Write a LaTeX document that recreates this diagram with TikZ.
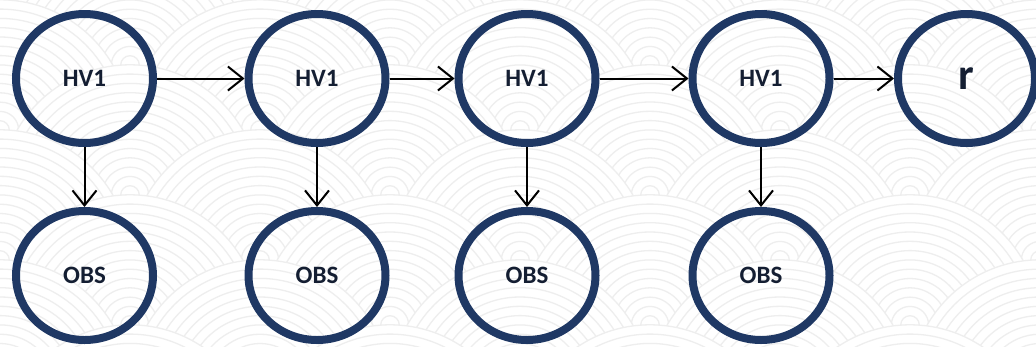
\documentclass[tikz,border=0pt]{standalone}
\usepackage{fontspec}
\setmainfont{Carlito}
\usetikzlibrary{shapes.geometric,arrows.meta}
\definecolor{navy}{RGB}{31,56,100}
\definecolor{txt}{RGB}{20,30,50}
\definecolor{waveline}{RGB}{238,238,238}
\tikzset{
  state/.style={ellipse, draw=navy, line width=8pt, minimum width=137pt, minimum height=129pt, inner sep=0pt, font=\fontsize{25}{25}\selectfont\bfseries, text=txt},
  big/.style={font=\fontsize{44}{44}\selectfont\bfseries},
  link/.style={draw=black, line width=2pt, -{Straight Barb[length=15pt,width=24pt,line width=2pt]}},
  wave/.style={draw=waveline, line width=1.3pt}
}
\newcommand{\lowtxt}[1]{\raisebox{-3pt}{#1}}
\begin{document}
\begin{tikzpicture}[x=1pt,y=-1pt]
\useasboundingbox[fill=white] (0,0) rectangle (1036,346);
\begin{scope}
\clip (0,0) rectangle (1036,346);
\foreach \j in {0,...,7} {
  \pgfmathsetmacro\yy{\j*65}
  \pgfmathsetmacro\off{mod(\j,2)*130}
  \foreach \i in {-1,...,4} {
    \pgfmathsetmacro\xx{\i*260+\off}
    \fill[white] (\xx,\yy) circle (130pt);
    \foreach \k in {1,...,14} \draw[wave] (\xx,\yy) circle ({\k*9.3pt});
  }
}
\end{scope}
\node[state] (h1) at (84.5,78.5) {\lowtxt{HV1}};
\node[state] (h2) at (317,78.5) {\lowtxt{HV1}};
\node[state] (h3) at (527,78.5) {\lowtxt{HV1}};
\node[state] (h4) at (761,78.5) {\lowtxt{HV1}};
\node[state,big] (r) at (966.5,78.5) {\lowtxt{r}};
\node[state] (o1) at (84.5,275.5) {\lowtxt{OBS}};
\node[state] (o2) at (317,275.5) {\lowtxt{OBS}};
\node[state] (o3) at (527,275.5) {\lowtxt{OBS}};
\node[state] (o4) at (761,275.5) {\lowtxt{OBS}};
\draw[link] (h1) -- (h2);
\draw[link] (h2) -- (h3);
\draw[link] (h3) -- (h4);
\draw[link] (h4) -- (r);
\draw[link] (h1) -- (o1);
\draw[link] (h2) -- (o2);
\draw[link] (h3) -- (o3);
\draw[link] (h4) -- (o4);
\end{tikzpicture}
\end{document}
